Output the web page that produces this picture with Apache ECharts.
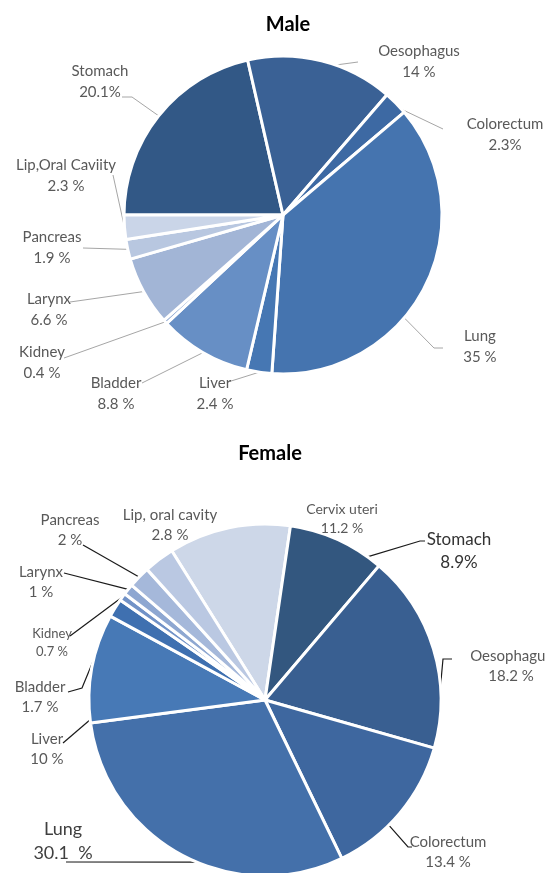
<!DOCTYPE html>
<html>
<head>
<meta charset="utf-8">
<style>
  html, body { margin: 0; padding: 0; background: #ffffff; }
  #chart { width: 545px; height: 873px; }
</style>
<script src="https://cdn.jsdelivr.net/npm/echarts@6/dist/echarts.min.js"></script>
</head>
<body>
<div id="chart"></div>
<script>
// Cancer site shares, clockwise from the start angle of each pie
const maleSites = ['Stomach', 'Oesophagus', 'Colorectum', 'Lung', 'Liver', 'Bladder', 'Kidney', 'Larynx', 'Pancreas', 'Lip,Oral Caviity'];
const maleValues = [20.1, 14, 2.3, 35, 2.4, 8.8, 0.4, 6.6, 1.9, 2.3];
const malePctSep = ['', ' ', '', ' ', ' ', ' ', ' ', ' ', ' ', ' '];

const femaleSites = ['Cervix uteri', 'Stomach', 'Oesophagus', 'Colorectum', 'Lung', 'Liver', 'Bladder', 'Kidney', 'Larynx', 'Pancreas', 'Lip, oral cavity'];
const femaleValues = [11.2, 8.9, 18.2, 13.4, 30.1, 10, 1.7, 0.7, 1, 2, 2.8];
const femalePctSep = [' ', '', ' ', ' ', '  ', ' ', ' ', ' ', ' ', ' ', ' '];

// Slice colours
const maleColors = ['#325886', '#3a6195', '#3d69a3', '#4574af', '#4677b3', '#678fc5', '#88a3cf', '#a2b5d6', '#b8c7e0', '#cad5e8'];
const femaleColors = ['#cdd7e8', '#33577f', '#395f91', '#3e679f', '#4470aa', '#4779b6', '#3f70b0', '#7192c7', '#8ea7d1', '#a5b8da', '#bac8e2'];

// Pie geometry
const MALE_PIE = { cx: 283, cy: 215, r: 159, start: 180 };
const FEMALE_PIE = { cx: 265, cy: 700, r: 176, start: 122 };

// Label anchor points (text block centres)
const maleLabelPos = [[100, 82], [419, 62], [505, 135], [480, 347], [215, 394], [116, 394], [42, 363], [49, 310], [52, 248], [66, 176]];
const femaleLabelPos = [[342, 519], [459, 551], [511, 666], [448, 852], [63, 841], [47, 749], [40, 697], [52, 643], [41, 582], [70, 530], [170, 525]];

// Leader lines: where along its slice (0 = clockwise start, 1 = end) each line
// leaves the rim, and the bend/end points towards its label (null = no line)
const maleLeaderFrac = [0.5, 0.6, 0.85, 0.6, 0.5, 0.5, 0.5, 0.5, 0.5, 0.5];
const maleLeaderPath = [
  [[132, 97], [122, 97]], [[358, 62]], [[443, 129]], [[434, 348], [443, 348]],
  [[228, 382]], [[142, 383]], [[64, 358]], [[70, 302]], [[83, 248]], [[113, 175]]
];
const femaleLeaderFrac = [0.5, 0.85, 0.69, 0.61, 0.45, 0.03, 0.5, 0.5, 0.5, 0.5, 0.5];
const femaleLeaderPath = [
  null, [[420, 541], [425, 541]], [[443, 659], [452, 659]], [[408, 847], [412, 847]],
  [[66, 862]], [[63, 743]], [[82, 688], [68, 692]], [[70, 636]], [[64, 573]], [[83, 545]], null
];

// Per-label text styling of the female pie
const femaleLabelSize = [14, 17, 15, 15, 18, 15, 15, 13, 15, 15, 15];
const femaleLabelColor = ['#595959', '#333333', '#595959', '#595959', '#404040', '#595959', '#595959', '#595959', '#595959', '#595959', '#595959'];

const FONT = 'Lato';

function buildData(names, values, colors, seps, extra) {
  return names.map((n, i) => {
    const item = {
      name: n,
      value: values[i],
      itemStyle: { color: colors[i] },
      label: { formatter: n + '\n' + values[i] + seps[i] + '%' }
    };
    if (extra) extra(item, i);
    return item;
  });
}

// Rim point of a slice, at a fraction of the way through its sweep
function rimPoint(pie, values, idx, frac) {
  const total = values.reduce((a, b) => a + b, 0);
  let before = 0;
  for (let i = 0; i < idx; i++) before += values[i];
  const deg = pie.start - (before + frac * values[idx]) / total * 360;
  const rad = deg * Math.PI / 180;
  return [pie.cx + pie.r * Math.cos(rad), pie.cy - pie.r * Math.sin(rad)];
}

function layoutFor(pie, values, pos, fracs, paths) {
  return function (p) {
    const i = p.dataIndex;
    const out = { x: pos[i][0], y: pos[i][1], align: 'center', verticalAlign: 'middle' };
    if (paths[i]) {
      out.labelLinePoints = [rimPoint(pie, values, i, fracs[i])].concat(paths[i]);
    }
    return out;
  };
}

const chart = echarts.init(document.getElementById('chart'), null, { renderer: 'canvas' });

const option = {
  backgroundColor: '#ffffff',
  animation: false,
  title: [
    { text: 'Male', left: 283, top: 10, textAlign: 'center',
      textStyle: { fontFamily: FONT, fontWeight: 'bold', fontSize: 20, color: '#000' } },
    { text: 'Female', left: 265, top: 439, textAlign: 'center',
      textStyle: { fontFamily: FONT, fontWeight: 'bold', fontSize: 20, color: '#000' } }
  ],
  series: [
    {
      type: 'pie',
      center: [MALE_PIE.cx, MALE_PIE.cy],
      radius: [0, MALE_PIE.r],
      startAngle: MALE_PIE.start,
      clockwise: true,
      avoidLabelOverlap: false,
      itemStyle: { borderColor: '#ffffff', borderWidth: 3 },
      label: {
        show: true,
        position: 'outside',
        fontFamily: FONT,
        fontSize: 15,
        lineHeight: 21,
        color: '#595959',
        align: 'center'
      },
      labelLine: { show: true, lineStyle: { color: '#a6a6a6', width: 1 } },
      labelLayout: layoutFor(MALE_PIE, maleValues, maleLabelPos, maleLeaderFrac, maleLeaderPath),
      emphasis: { disabled: true },
      data: buildData(maleSites, maleValues, maleColors, malePctSep)
    },
    {
      type: 'pie',
      center: [FEMALE_PIE.cx, FEMALE_PIE.cy],
      radius: [0, FEMALE_PIE.r],
      startAngle: FEMALE_PIE.start,
      clockwise: true,
      avoidLabelOverlap: false,
      itemStyle: { borderColor: '#ffffff', borderWidth: 3 },
      label: {
        show: true,
        position: 'outside',
        fontFamily: FONT,
        fontSize: 15,
        lineHeight: 20,
        color: '#595959',
        align: 'center'
      },
      labelLine: { show: true, lineStyle: { color: '#1a1a1a', width: 1.2 } },
      labelLayout: layoutFor(FEMALE_PIE, femaleValues, femaleLabelPos, femaleLeaderFrac, femaleLeaderPath),
      emphasis: { disabled: true },
      data: buildData(femaleSites, femaleValues, femaleColors, femalePctSep, (item, i) => {
        item.label.fontSize = femaleLabelSize[i];
        item.label.lineHeight = Math.round(femaleLabelSize[i] * 1.35);
        item.label.color = femaleLabelColor[i];
        item.labelLine = { show: femaleLeaderPath[i] !== null };
      })
    }
  ]
};

chart.setOption(option);
</script>
</body>
</html>
